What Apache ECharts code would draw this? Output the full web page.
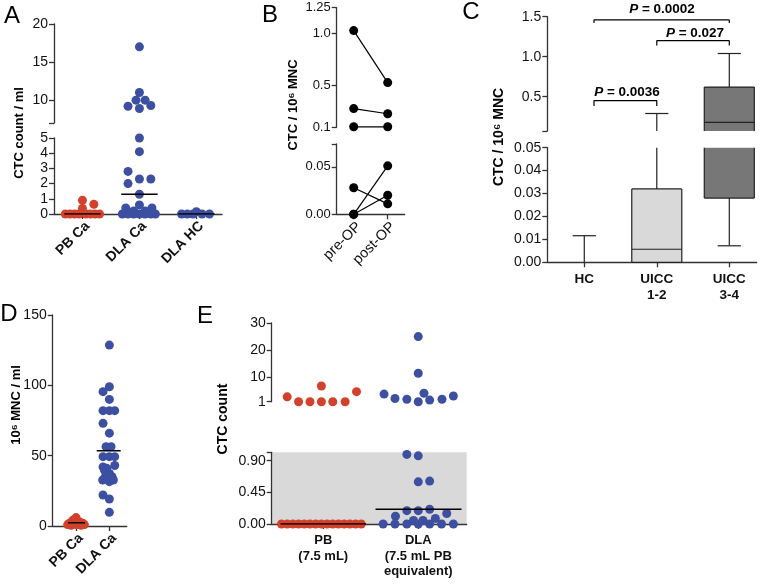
<!DOCTYPE html>
<html><head><meta charset="utf-8">
<script src="https://cdn.jsdelivr.net/npm/echarts@6/dist/echarts.min.js"></script>
<style>html,body{margin:0;padding:0;background:#fff}#c{width:768px;height:584px}</style>
</head><body><div id="c"></div>
<script>
// ---------- Panel A : CTC count / ml ----------
const aCategories = ['PB Ca', 'DLA Ca', 'DLA HC'];
const aPbCaValues = [0, 0, 0, 0, 0, 0, 0, 0, 0.37, 0.64, 0.9];
const aPbCaJitter = [-0.3, -0.22, -0.14, -0.06, 0.06, 0.14, 0.22, 0.3, 0, 0.2, 0];
const aDlaCaValues = [17, 11, 10, 10, 9.3, 9.2, 8.9, 5, 4.1, 2.8, 2.3, 2.3, 2.0, 1.3, 0.6, 0.4, 0.4, 0.2, 0.2, 0, 0, 0, 0, 0, 0, 0];
const aDlaCaJitter = [0, 0, -0.06, 0.1, 0.2, -0.2, 0, 0, 0, -0.2, 0, 0.2, -0.2, 0, 0, -0.24, 0.22, -0.1, 0.1, -0.3, -0.2, -0.1, 0, 0.1, 0.2, 0.28];
const aDlaHcValues = [0, 0, 0, 0.15, 0, 0];
const aDlaHcJitter = [-0.26, -0.16, -0.06, 0, 0.1, 0.23];
const aMedians = [0, 1.3, 0];
const aTopTicks = [7, 10, 15, 20], aTopLabels = [10, 15, 20];
const aBottomTicks = [0, 1, 2, 3, 4, 5];

// ---------- Panel B : paired pre/post ----------
const bCategories = ['pre-OP', 'post-OP'];
const bPre = [1.03, 0.28, 0.105, 0.028, 0, 0];
const bPost = [0.53, 0.23, 0.105, 0.011, 0.051, 0.02];
const bTopTicks = [0.1, 0.5, 1.0, 1.25];
const bBottomTicks = [0, 0.05, 0.074], bBottomLabels = [0, 0.05];

// ---------- Panel C : box plots ----------
const cCategories = ['HC', 'UICC\n1-2', 'UICC\n3-4'];
const cMin = [0, 0, 0.0072];
const cQ1 = [0, 0, 0.028];
const cMedian = [0, 0.0057, 0.18];
const cQ3 = [0, 0.032, 0.62];
const cMax = [0.0116, 0.29, 1.04];
const cPValues = ['0.0002', '0.027', '0.0036'];
const cTopTicks = [0.07, 0.5, 1.0, 1.5], cTopLabels = [0.5, 1.0, 1.5];
const cBottomTicks = [0, 0.01, 0.02, 0.03, 0.04, 0.05];

// ---------- Panel D : MNC / ml ----------
const dCategories = ['PB Ca', 'DLA Ca'];
const dPbCaValues = [6, 4, 3, 2, 2, 2, 1.5, 1.5, 1, 1, 1, 0.5, 0.5];
const dPbCaJitter = [0, -0.1, 0.1, -0.2, 0, 0.2, -0.1, 0.1, -0.25, 0, 0.25, -0.15, 0.15];
const dDlaCaValues = [128.6, 99, 95.5, 90, 82, 82, 82, 73, 66, 56.4, 56.4, 49.3, 49.3, 49.3, 43, 42, 41, 39.8, 37.4, 35, 35, 32.7, 31.5, 32.7, 22, 19.2, 9.7];
const dDlaCaJitter = [0, 0, -0.19, 0, -0.19, 0, 0.16, -0.19, 0, -0.1, 0.05, -0.19, 0, 0.16, 0.16, -0.19, -0.08, -0.15, 0, -0.12, 0.08, -0.2, 0, 0.12, -0.19, 0, 0];
const dMedians = [2.3, 53.5];
const dTicks = [0, 50, 100, 150];

// ---------- Panel E : CTC count ----------
const eCategories = ['PB\n(7.5 mL)', 'DLA\n(7.5 mL PB\nequivalent)'];
const ePbHighValues = [2.8, 1, 1, 1, 1, 1, 6.8, 4.7];
const ePbHighJitter = [-0.38, -0.26, -0.14, -0.02, 0.1, 0.23, -0.02, 0.35];
const ePbLowValues = [0, 0, 0, 0, 0, 0, 0, 0, 0, 0, 0, 0, 0, 0, 0];
const ePbLowJitter = [-0.44, -0.38, -0.32, -0.26, -0.2, -0.14, -0.08, -0.02, 0.04, 0.1, 0.16, 0.22, 0.28, 0.34, 0.4];
const eDlaHighValues = [3.8, 2.2, 1.9, 1.0, 4.1, 1.6, 1.9, 3.1, 11.5, 25];
const eDlaHighJitter = [-0.36, -0.245, -0.12, 0, 0.06, 0.12, 0.25, 0.37, 0, 0];
const eDlaLowValues = [0.99, 0.97, 0.6, 0.61, 0.21, 0.19, 0.19, 0.15, 0.11, 0.08, 0.05, 0.05, 0, 0, 0, 0, 0, 0, 0];
const eDlaLowJitter = [-0.12, 0, 0, 0.12, 0.12, -0.12, 0, 0.3, -0.24, 0.18, -0.05, 0.05, -0.37, -0.245, -0.12, 0, 0.12, 0.245, 0.37];
const eMedians = [0, 0.21];
const eTopTicks = [1, 10, 20, 30];
const eBottomTicks = [0, 0.45, 0.9, 1.02], eBottomLabels = [0, 0.45, 0.9];

// ---------- styling ----------
const FONT = '"Liberation Sans", Arial, Helvetica, sans-serif';
const RED = '#d2412c', BLUE = '#3d4fa0', AXC = '#333';
const BOX_FILLS = ['#ffffff', '#d9d9d9', '#777777'];

const grids = [], xAxis = [], yAxis = [], series = [], graphic = [];

function makeX(min, max, cats, show, lab) {
  const ticks = cats.map((_, i) => i);
  return {
    type: 'value', min: min, max: max, show: show,
    axisLine: { show: true, onZero: false, lineStyle: { color: AXC, width: 1.3 } },
    axisTick: { show: true, inside: false, length: 5, customValues: ticks, lineStyle: { color: AXC, width: 1.3 } },
    axisLabel: Object.assign({ customValues: ticks, formatter: v => cats[Math.round(v)], color: '#111',
      fontFamily: FONT, fontSize: 13, fontWeight: 'bold', margin: 6 }, lab || {}),
    splitLine: { show: false }
  };
}
function makeY(min, max, ticks, labels, fmt, fontSize) {
  return {
    type: 'value', min: min, max: max,
    axisLine: { show: true, onZero: false, lineStyle: { color: AXC, width: 1.3 } },
    axisTick: { show: true, inside: false, length: 5, customValues: ticks, lineStyle: { color: AXC, width: 1.3 } },
    axisLabel: { customValues: labels, formatter: fmt, color: '#111', fontFamily: FONT, fontSize: fontSize, margin: 6 },
    splitLine: { show: false }
  };
}
function addGrid(box, x, y, extra) {
  const i = grids.length;
  grids.push(Object.assign({ left: box[0], top: box[1], width: box[2], height: box[3],
    containLabel: false, outerBoundsMode: 'none', show: false }, extra || {}));
  x.gridIndex = i; y.gridIndex = i;
  xAxis.push(x); yAxis.push(y);
  return i;
}
function pts(cat, vals, jit, keep) {
  const out = [];
  vals.forEach((v, i) => { if (!keep || keep(v)) out.push([cat + jit[i], v]); });
  return out;
}
function scatter(gi, data, color) {
  series.push({ type: 'scatter', xAxisIndex: gi, yAxisIndex: gi, data: data, symbolSize: 9,
    itemStyle: { color: color, opacity: 1 }, silent: true, z: 3, clip: false, animation: false });
}
function medianLine(gi, c, m, h1, h2) {
  series.push({ type: 'line', xAxisIndex: gi, yAxisIndex: gi, data: [[c - h1, m], [c + h2, m]],
    symbol: 'none', lineStyle: { color: '#000', width: 1.6 }, z: 6, silent: true, animation: false });
}
function text(x, y, str, size, weight, rot, rich) {
  graphic.push({ type: 'text', x: x, y: y, rotation: rot || 0, silent: true,
    style: { text: str, fontFamily: FONT, fontSize: size, fontWeight: weight, fill: '#000',
      align: 'center', verticalAlign: 'middle', textAlign: 'center', textVerticalAlign: 'middle', rich: rich } });
}
const fmtInt = v => String(v);
const ROT = { rotate: 45, align: 'right', verticalAlign: 'top', margin: 5 };

// ===== Panel A =====
const gA1 = addGrid([54, 24, 168, 99], makeX(-0.5, 2.45, aCategories, false),
  makeY(7, 20, aTopTicks, aTopLabels, fmtInt, 14));
const gA2 = addGrid([54, 138, 168, 76], makeX(-0.5, 2.45, aCategories, true, Object.assign({ fontSize: 14 }, ROT)),
  makeY(0, 5, aBottomTicks, aBottomTicks, fmtInt, 14));
const aBreak = 5;
[[aPbCaValues, aPbCaJitter, RED], [aDlaCaValues, aDlaCaJitter, BLUE], [aDlaHcValues, aDlaHcJitter, BLUE]]
  .forEach((g, c) => {
    const hi = pts(c, g[0], g[1], v => v > aBreak), lo = pts(c, g[0], g[1], v => v <= aBreak);
    if (hi.length) scatter(gA1, hi, g[2]);
    scatter(gA2, lo, g[2]);
  });
aMedians.forEach((m, c) => medianLine(gA2, c, m, 0.32, 0.32));

// ===== Panel B =====
const gB1 = addGrid([336.7, 7.7, 68, 119.6], makeX(-0.5, 1.5, bCategories, false),
  makeY(0.1, 1.25, bTopTicks, bTopTicks, v => (v === 1.25 ? '1.25' : v.toFixed(1)), 13));
const gB2 = addGrid([336.7, 144, 68, 70.3], makeX(-0.5, 1.5, bCategories, true, Object.assign({ fontWeight: 'normal', fontSize: 14.5 }, ROT)),
  makeY(0, 0.074, bBottomTicks, bBottomLabels, v => v.toFixed(2), 13));
bPre.forEach((pre, i) => {
  const post = bPost[i];
  const gi = (pre >= 0.1 && post >= 0.1) ? gB1 : gB2;
  series.push({ type: 'line', xAxisIndex: gi, yAxisIndex: gi, data: [[0, pre], [1, post]],
    symbol: 'circle', symbolSize: 9, showSymbol: true, itemStyle: { color: '#000' },
    lineStyle: { color: '#000', width: 1.2 }, clip: false, silent: true, z: 4, animation: false });
});

// ===== Panel C =====
function boxRenderer(lo, hi) {
  return function (params, api) {
    const x = api.value(0), mn = api.value(1), q1 = api.value(2), md = api.value(3), q3 = api.value(4), mx = api.value(5);
    const cl = v => Math.max(lo, Math.min(hi, v));
    const py = v => api.coord([x, cl(v)])[1];
    const cx = api.coord([x, lo])[0];
    const hw = api.size([0.345, 0])[0];
    const cw = api.size([0.16, 0])[0];
    const ls = { stroke: '#222', lineWidth: 1.2 };
    const ch = [];
    const line = (x1, y1, x2, y2) => ch.push({ type: 'line', shape: { x1: x1, y1: y1, x2: x2, y2: y2 }, style: ls });
    if (q3 > q1 && q3 > lo && q1 < hi) {
      const yt = py(q3), yb = py(q1);
      ch.push({ type: 'rect', shape: { x: cx - hw, y: yt, width: 2 * hw, height: yb - yt }, style: { fill: BOX_FILLS[params.dataIndex] } });
      line(cx - hw, yt, cx - hw, yb); line(cx + hw, yt, cx + hw, yb);
      if (q3 <= hi) line(cx - hw, yt, cx + hw, yt);
      if (q1 >= lo) line(cx - hw, yb, cx + hw, yb);
      if (md >= lo && md <= hi) { const ym = py(md); line(cx - hw, ym, cx + hw, ym); }
    }
    if (mx > q3 && mx > lo && q3 < hi) {
      const y1 = py(q3), y2 = py(mx); line(cx, y1, cx, y2);
      if (mx <= hi) line(cx - cw, y2, cx + cw, y2);
    }
    if (mn < q1 && q1 > lo && mn < hi) {
      const y1 = py(q1), y2 = py(mn); line(cx, y1, cx, y2);
      if (mn >= lo) line(cx - cw, y2, cx + cw, y2);
    }
    return { type: 'group', children: ch };
  };
}
const cBoxData = cCategories.map((_, i) => [i, cMin[i], cQ1[i], cMedian[i], cQ3[i], cMax[i]]);
const gC1 = addGrid([547.3, 16.7, 209.4, 114.4], makeX(-0.51, 2.378, cCategories, false),
  makeY(0.07, 1.5, cTopTicks, cTopLabels, v => v.toFixed(1), 14));
const gC2 = addGrid([547.3, 147.7, 209.4, 114.6], makeX(-0.51, 2.378, cCategories, true, { fontSize: 13.5, lineHeight: 16, margin: 9 }),
  makeY(0, 0.05, cBottomTicks, cBottomTicks, v => v.toFixed(2), 14));
[[gC1, 0.07, 1.5], [gC2, 0, 0.05]].forEach(g => {
  series.push({ type: 'custom', xAxisIndex: g[0], yAxisIndex: g[0], data: cBoxData,
    encode: { x: 0, y: [1, 2, 3, 4, 5] }, renderItem: boxRenderer(g[1], g[2]), silent: true, z: 3, animation: false });
});
// significance brackets (annotation geometry in data space of top segment)
const cBrackets = [[0.134, 2, 1.46, 1.42], [1.0, 2, 1.2, 1.14], [0.134, 1.0, 0.45, 0.385]];
cBrackets.forEach(b => {
  series.push({ type: 'line', xAxisIndex: gC1, yAxisIndex: gC1,
    data: [[b[0], b[3]], [b[0], b[2]], [b[1], b[2]], [b[1], b[3]]],
    symbol: 'none', lineStyle: { color: '#000', width: 1.2 }, clip: false, silent: true, z: 4, animation: false });
});
const pRich = { i: { fontStyle: 'italic', fontWeight: 'bold', fontSize: 13.5, fontFamily: FONT } };
const cPPos = [[662, 9], [695, 33], [627, 92]];
cPValues.forEach((p, i) => text(cPPos[i][0], cPPos[i][1], '{i|P} = ' + p, 13.5, 'bold', 0, pRich));

// ===== Panel D =====
const gD = addGrid([52.7, 315, 74, 211], makeX(-0.7, 1.52, dCategories, true, Object.assign({ fontSize: 14 }, ROT)),
  makeY(0, 150, dTicks, dTicks, fmtInt, 14));
scatter(gD, pts(0, dPbCaValues, dPbCaJitter), RED);
scatter(gD, pts(1, dDlaCaValues, dDlaCaJitter), BLUE);
medianLine(gD, 0, dMedians[0], 0.24, 0.27);
medianLine(gD, 1, dMedians[1], 0.38, 0.34);

// ===== Panel E =====
const gE1 = addGrid([271.7, 323, 195, 78.7], makeX(-0.543, 1.51, eCategories, false),
  makeY(1, 30, eTopTicks, eTopTicks, fmtInt, 14));
const gE2 = addGrid([271.7, 452.3, 195, 71.7], makeX(-0.543, 1.51, eCategories, true, { fontSize: 13, lineHeight: 15.3, margin: 9 }),
  makeY(0, 1.02, eBottomTicks, eBottomLabels, v => v.toFixed(2), 14),
  { show: true, backgroundColor: '#d9d9d9', borderWidth: 0 });
scatter(gE1, pts(0, ePbHighValues, ePbHighJitter), RED);
scatter(gE1, pts(1, eDlaHighValues, eDlaHighJitter), BLUE);
scatter(gE2, pts(0, ePbLowValues, ePbLowJitter), RED);
scatter(gE2, pts(1, eDlaLowValues, eDlaLowJitter), BLUE);
medianLine(gE2, 0, eMedians[0], 0.45, 0.45);
medianLine(gE2, 1, eMedians[1], 0.45, 0.455);

// ===== titles & panel letters =====
const R = Math.PI / 2;
text(19, 133, 'CTC count / ml', 13, 'bold', R);
text(293, 105, 'CTC / 10⁶ MNC', 13, 'bold', R);
text(499, 137, 'CTC / 10⁶ MNC', 14, 'bold', R);
text(16, 405, '10⁶ MNC / ml', 13, 'bold', R);
text(223, 419, 'CTC count', 14, 'bold', R);
text(12, 16, 'A', 24, 'normal');
text(270, 15, 'B', 24, 'normal');
text(471, 12, 'C', 24, 'normal');
text(9, 314, 'D', 24, 'normal');
text(205, 316, 'E', 24, 'normal');

const chart = echarts.init(document.getElementById('c'), null, { renderer: 'canvas', width: 768, height: 584 });
chart.setOption({ animation: false, backgroundColor: '#ffffff', grid: grids, xAxis: xAxis, yAxis: yAxis, series: series, graphic: graphic });
</script></body></html>
